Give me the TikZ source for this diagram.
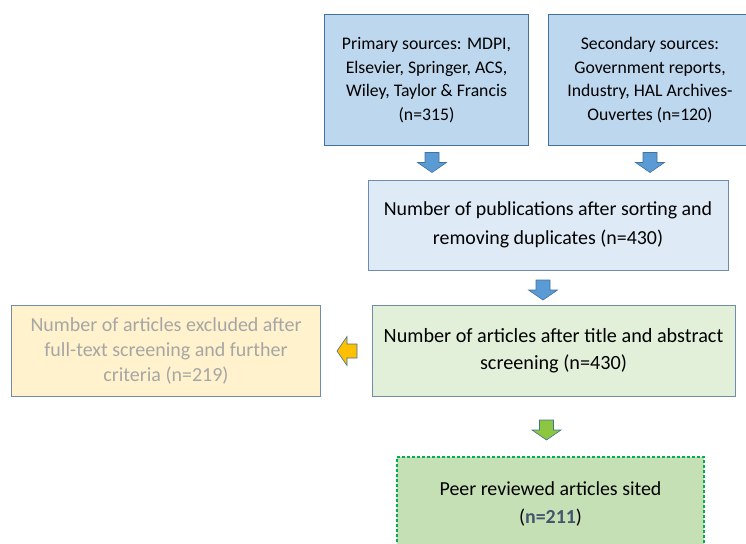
\documentclass[tikz,border=0pt]{standalone}
\usepackage{fontspec}
\setmainfont{Carlito}
\usetikzlibrary{positioning}
\definecolor{srcfill}{HTML}{BDD7EE}
\definecolor{dupfill}{HTML}{DEEBF7}
\definecolor{scrfill}{HTML}{E2F0D9}
\definecolor{excfill}{HTML}{FFF2CC}
\definecolor{finfill}{HTML}{C5E0B4}
\definecolor{boxline}{HTML}{6F8BAE}
\definecolor{srcline}{HTML}{41719C}
\definecolor{arrblue}{HTML}{5B9BD5}
\definecolor{arrorange}{HTML}{FFC000}
\definecolor{arrgreen}{HTML}{8DC63F}
\definecolor{dashgreen}{HTML}{00B050}
\definecolor{numblue}{HTML}{44546A}
\definecolor{greytext}{HTML}{A6A6A6}
\tikzset{
  stagebox/.style={draw=boxline, line width=0.8pt, inner sep=0pt, align=center, text=black},
  blockdown/.pic={
    \path[pic actions] (-7,-10) -- (7,-10) -- (7,0) -- (14.5,0) -- (0,10)
      -- (-14.5,0) -- (-7,0) -- cycle;
  }
}
\begin{document}
\begin{tikzpicture}[x=1pt, y=-1pt]
  \useasboundingbox (0,0) rectangle (746,543);

  % Sources
  \node[stagebox, draw=srcline, fill=srcfill, minimum width=204pt, minimum height=131pt,
        font=\fontsize{17.7}{23.5}\selectfont] (primary) at (426.5,80)
    {Primary sources: MDPI,\\Elsevier, Springer, ACS,\\Wiley, Taylor \& Francis\\(n=315)};
  \node[stagebox, draw=srcline, fill=srcfill, minimum width=204pt, minimum height=131pt,
        font=\fontsize{17.7}{23.5}\selectfont] (secondary) at (650,80)
    {Secondary sources:\\Government reports,\\Industry, HAL Archives-\\Ouvertes (n=120)};

  % Sorting
  \node[stagebox, fill=dupfill, minimum width=360pt, minimum height=90pt,
        font=\fontsize{19.9}{28.5}\selectfont] (sorted) at (548,225)
    {Number of publications after sorting and\\removing duplicates (n=430)};

  % Screening
  \node[stagebox, fill=scrfill, minimum width=363pt, minimum height=91pt,
        font=\fontsize{20.2}{27}\selectfont] (screened) at (553.5,351)
    {Number of articles after title and abstract\\screening (n=430)};
  \node[stagebox, fill=excfill, minimum width=309pt, minimum height=91pt, text=greytext,
        font=\fontsize{20}{25}\selectfont] (excluded) at (166,351)
    {Number of articles excluded after\\full-text screening and further\\criteria (n=219)};

  % Included
  \node[stagebox, draw=dashgreen, dash pattern=on 3pt off 2pt, line width=1.2pt,
        fill=finfill, minimum width=307pt, minimum height=94pt,
        font=\fontsize{19.9}{28}\selectfont] (included) at (550.5,504)
    {Peer reviewed articles sited\\(\textbf{\color{numblue}n=211})};

  % Block arrows
  \pic[fill=arrblue, draw=srcline, line width=0.6pt] (arrA) at (432,162.5) {blockdown};
  \pic[fill=arrblue, draw=srcline, line width=0.6pt] (arrB) at (650,162.5) {blockdown};
  \pic[fill=arrblue, draw=srcline, line width=0.6pt] (arrC) at (543,290) {blockdown};
  \pic[fill=arrorange, draw=srcline, line width=0.6pt, rotate=-90] (arrD) at (347,351) {blockdown};
  \pic[fill=arrgreen, draw=srcline, line width=0.6pt] (arrE) at (546.5,430) {blockdown};
\end{tikzpicture}
\end{document}
